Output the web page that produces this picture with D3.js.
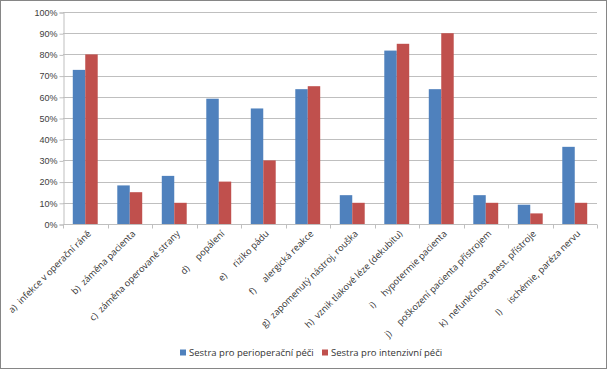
<!DOCTYPE html>
<html><head><meta charset="utf-8">
<script src="https://cdn.jsdelivr.net/npm/d3@7/dist/d3.min.js"></script>
<style>
html,body{margin:0;padding:0;background:#fff;}
svg{display:block;font-family:"Open Sans","Liberation Sans",sans-serif;}
</style></head>
<body><svg id="c" width="607" height="369"></svg>
<script>
const categories = [
  "a)  infekce v operační ráně",
  "b)  záměna pacienta",
  "c)  záměna operované strany",
  "d)     popálení",
  "e)     riziko pádu",
  "f)     alergická reakce",
  "g)  zapomenutý nástroj, rouška",
  "h)  vznik tlakové léze (dekubitu)",
  "i)     hypotermie pacienta",
  "j)     poškození pacienta přístrojem",
  "k)  nefunkčnost anest. přístroje",
  "l)     ischémie, paréza nervu"
];
const seriesNames = ["Sestra pro perioperační péči", "Sestra pro intenzivní péči"];
const perioperacni = [72.7, 18.2, 22.7, 59.1, 54.5, 63.6, 13.6, 81.8, 63.6, 13.6, 9.1, 36.4];
const intenzivni   = [80, 15, 10, 20, 30, 65, 10, 85, 90, 10, 5, 10];
const yTicks = [0,10,20,30,40,50,60,70,80,90,100];
const colors = ["#4f81bd", "#c0504d"];

(function(){
const svg = d3.select("#c");
svg.append("rect").attr("x",0.5).attr("y",0.5).attr("width",606).attr("height",368)
  .attr("fill","#fff").attr("stroke","#868686");

const pLeft = 63, pRight = 597, pTop = 12, pBottom = 224;
const x = d3.scaleBand().domain(categories).range([pLeft,pRight]).paddingInner(0.44).paddingOuter(0.22);
const x1 = d3.scaleBand().domain([0,1]).range([0, x.bandwidth()]);
const y = d3.scaleLinear().domain([0,100]).range([pBottom, pTop]);

svg.append("g").selectAll("line").data(yTicks.filter(d=>d>0)).join("line")
  .attr("x1",pLeft).attr("x2",pRight).attr("y1",d=>Math.round(y(d))+0.5).attr("y2",d=>Math.round(y(d))+0.5)
  .attr("stroke","#bfbfbf").attr("stroke-width",1);

const yAxis = d3.axisLeft(y).tickValues(yTicks).tickFormat(d=>d+"%").tickSize(4).tickPadding(2);
const gy = svg.append("g").attr("transform",`translate(${pLeft+0.5},0.5)`).call(yAxis);
gy.select(".domain").attr("stroke","#bfbfbf");
gy.selectAll(".tick line").attr("stroke","#bfbfbf");
gy.selectAll(".tick text").attr("fill","#404040").style("font-size","9px");

const series = [perioperacni, intenzivni];
series.forEach((vals, si) => {
  svg.append("g").selectAll("rect").data(vals).join("rect")
    .attr("x",(d,i)=>x(categories[i]) + x1(si))
    .attr("y",d=>y(d))
    .attr("width",x1.bandwidth())
    .attr("height",d=>pBottom - y(d))
    .attr("fill",colors[si]);
});

const gx = svg.append("g").attr("transform",`translate(0,${pBottom+0.5})`);
gx.append("line").attr("x1",pLeft).attr("x2",pRight).attr("stroke","#bfbfbf");
const bounds = d3.range(categories.length+1).map(i=>pLeft + i*(pRight-pLeft)/categories.length);
gx.selectAll("line.tk").data(bounds).join("line").attr("class","tk")
  .attr("x1",d=>Math.round(d)+0.5).attr("x2",d=>Math.round(d)+0.5).attr("y1",0).attr("y2",4)
  .attr("stroke","#bfbfbf");

svg.append("g").selectAll("text").data(categories).join("text")
  .attr("transform",d=>`translate(${x(d)+x.bandwidth()/2+4},${pBottom+8}) rotate(-45)`)
  .attr("text-anchor","end")
  .attr("dy","0.35em")
  .style("white-space","pre")
  .attr("xml:space","preserve")
  .attr("fill","#333")
  .style("font-size","9.2px")
  .text(d=>d);

const leg = svg.append("g").attr("transform","translate(180,353)");
const legX = [0, 142];
seriesNames.forEach((n,i)=>{
  const g = leg.append("g").attr("transform",`translate(${legX[i]},0)`);
  g.append("rect").attr("x",0).attr("y",-3.5).attr("width",6).attr("height",6).attr("fill",colors[i]);
  g.append("text").attr("x",9).attr("dy","0.35em").attr("fill","#333").style("font-size","9.5px").text(n);
});
})();
</script>
</body></html>
